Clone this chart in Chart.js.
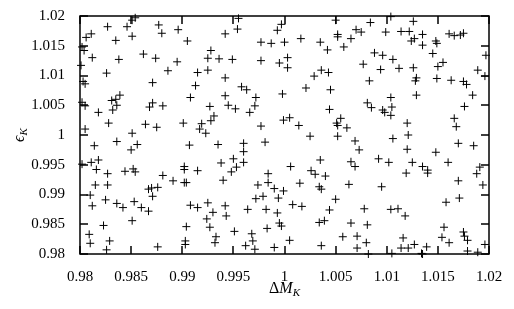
<!DOCTYPE html>
<html>
<head>
<meta charset="utf-8">
<script src="https://cdn.jsdelivr.net/npm/chart.js@4.4.0/dist/chart.umd.min.js"></script>
<style>
  html, body { margin: 0; padding: 0; background: #fff; }
</style>
</head>
<body>
<canvas id="scatter-chart" width="514" height="309"></canvas>
<script>
// Delta M_K values (top → bottom, left → right)
const deltaM = [
    0.9851, 0.9854, 0.9827, 0.9846, 0.9877, 0.9880, 0.9806, 0.9811, 0.9851, 0.9835,
    0.9802, 0.9804, 0.9812, 0.9838, 0.9862, 0.9874, 0.9886, 0.9801, 0.9826, 0.9803,
    0.9805, 0.9871,
    0.9955, 0.9896, 0.9942, 0.9954, 0.9993, 0.9905, 0.9977, 0.9987, 0.9928, 0.9925,
    0.9936, 0.9949, 0.9895, 0.9977, 0.9915, 0.9925, 0.9942, 0.9913, 0.9958, 0.9963,
    0.9997, 1.0050, 1.0084, 1.0099, 1.0070, 1.0075, 1.0052, 1.0052, 1.0016, 1.0000,
    1.0035, 1.0042, 1.0065, 1.0058, 1.0003, 0.9995, 1.0003, 1.0088, 1.0096, 1.0077,
    1.0094, 1.0036, 1.0043, 1.0029, 1.0083, 1.0021, 1.0045, 0.9998,
    1.0104, 1.0126, 1.0114, 1.0122, 1.0135, 1.0124, 1.0127, 1.0135, 1.0148, 1.0149,
    1.0161, 1.0166, 1.0172, 1.0175, 1.0197, 1.0145, 1.0106, 1.0112, 1.0126, 1.0150,
    1.0155, 1.0189, 1.0196, 1.0129, 1.0128, 1.0149, 1.0163, 1.0175, 1.0178,
    0.9839, 0.9831, 0.9835, 0.9836, 0.9832, 0.9802, 0.9805, 0.9818, 0.9871, 0.9868,
    0.9881, 0.9828, 0.9864, 0.9875, 0.9805, 0.9851, 0.9836, 0.9856, 0.9814, 0.9850,
    0.9802, 0.9811, 0.9818, 0.9816, 0.9827, 0.9844, 0.9852, 0.9854, 0.9881,
    0.9908, 0.9942, 0.9972, 0.9927, 0.9945, 0.9952, 0.9971, 0.9966, 0.9931, 0.9928,
    0.9901, 0.9919, 0.9917, 0.9923, 0.9977, 0.9907, 0.9935, 0.9960, 0.9981, 0.9960,
    0.9950, 0.9938, 0.9960, 0.9953, 0.9948, 0.9902, 0.9902, 0.9915, 0.9984,
    1.0044, 1.0081, 1.0085, 1.0096, 1.0098, 0.9999, 1.0005, 1.0014, 1.0055, 1.0051,
    1.0052, 1.0061, 1.0025, 1.0052, 1.0069, 1.0073, 1.0035, 1.0006, 1.0026, 1.0030,
    1.0040, 1.0065, 1.0069, 1.0092, 1.0102,
    1.0104, 1.0129, 1.0184, 1.0105, 1.0104, 1.0176, 1.0120, 1.0166, 1.0168, 1.0121,
    1.0106, 1.0120, 1.0148, 1.0170, 1.0185, 1.0125, 1.0135, 1.0140, 1.0140, 1.0160,
    1.0191, 1.0119, 1.0188,
    0.9815, 0.9827, 0.9810, 0.9812, 0.9825, 0.9836, 0.9842, 0.9853, 0.9860, 0.9867,
    0.9867, 0.9870, 0.9876, 0.9871, 0.9823, 0.9851, 0.9809, 0.9810, 0.9829, 0.9826,
    0.9876,
    0.9891, 0.9902, 0.9904, 0.9940, 0.9974, 0.9984, 0.9990, 0.9972, 0.9979, 0.9994,
    0.9908, 0.9915, 0.9925, 0.9942, 0.9930, 0.9943, 0.9924, 0.9964, 0.9982, 0.9993,
    0.9995, 0.9997, 0.9904, 0.9927, 0.9951, 0.9983, 0.9968, 0.9933, 0.9932, 0.9903,
    0.9903, 0.9962, 0.9969, 0.9971, 0.9990,
    1.0015, 0.9999, 1.0034, 1.0036, 1.0063, 1.0095, 1.0050, 1.0008, 1.0017, 1.0044,
    1.0078, 1.0034, 1.0039, 1.0065, 1.0081, 1.0005, 1.0057, 1.0071, 1.0080, 1.0036,
    1.0071, 1.0082,
    1.0170, 1.0194, 1.0171, 1.0158, 1.0104, 1.0111, 1.0118, 1.0156, 1.0154, 1.0161,
    1.0175, 1.0176, 1.0179, 1.0179, 1.0116, 1.0114, 1.0121, 1.0127, 1.0139, 1.0134,
    1.0135, 1.0105, 1.0189, 1.0196
];

// epsilon_K values, same order as deltaM
const epsK = [
    1.0193, 1.0197, 1.0182, 1.0182, 1.0185, 1.0171, 1.0164, 1.0170, 1.0166, 1.0159,
    1.0148, 1.0142, 1.0130, 1.0127, 1.0136, 1.0129, 1.0108, 1.0117, 1.0104, 1.0090,
    1.0086, 1.0088,
    1.0196, 1.0177, 1.0170, 1.0178, 1.0176, 1.0158, 1.0156, 1.0154, 1.0142, 1.0129,
    1.0128, 1.0127, 1.0123, 1.0125, 1.0105, 1.0109, 1.0096, 1.0083, 1.0081, 1.0076,
    1.0186, 1.0193, 1.0189, 1.0173, 1.0177, 1.0173, 1.0169, 1.0165, 1.0162, 1.0156,
    1.0156, 1.0143, 1.0162, 1.0148, 1.0130, 1.0121, 1.0113, 1.0138, 1.0134, 1.0119,
    1.0110, 1.0109, 1.0105, 1.0099, 1.0091, 1.0079, 1.0076, 1.0069,
    1.0199, 1.0191, 1.0174, 1.0174, 1.0169, 1.0158, 1.0162, 1.0151, 1.0158, 1.0154,
    1.0170, 1.0167, 1.0168, 1.0171, 1.0134, 1.0137, 1.0127, 1.0112, 1.0113, 1.0115,
    1.0122, 1.0109, 1.0099, 1.0096, 1.0091, 1.0095, 1.0092, 1.0090, 1.0085,
    1.0067, 1.0058, 1.0060, 1.0050, 1.0042, 1.0055, 1.0049, 1.0038, 1.0054, 1.0047,
    1.0049, 1.0020, 1.0018, 1.0013, 1.0010, 1.0003, 0.9989, 0.9984, 0.9982, 0.9975,
    0.9951, 0.9954, 0.9958, 0.9942, 0.9935, 0.9939, 0.9943, 0.9938, 0.9932,
    1.0063, 1.0066, 1.0063, 1.0048, 1.0050, 1.0044, 1.0049, 1.0038, 1.0032, 1.0024,
    1.0020, 1.0019, 1.0010, 1.0003, 1.0015, 0.9983, 0.9984, 0.9986, 0.9988, 0.9972,
    0.9960, 0.9953, 0.9954, 0.9946, 0.9938, 0.9947, 0.9942, 0.9940, 0.9935,
    1.0043, 1.0054, 1.0046, 1.0042, 1.0038, 1.0025, 1.0029, 1.0016, 1.0028, 1.0020,
    1.0016, 1.0012, 0.9998, 0.9998, 0.9990, 0.9975, 0.9958, 0.9947, 0.9940, 0.9934,
    0.9931, 0.9955, 0.9947, 0.9960, 0.9954,
    1.0063, 1.0067, 1.0067, 1.0047, 1.0033, 1.0048, 1.0020, 1.0028, 1.0014, 1.0000,
    0.9994, 0.9976, 0.9971, 0.9986, 0.9982, 0.9954, 0.9947, 0.9941, 0.9936, 0.9954,
    0.9946, 0.9936, 0.9935,
    0.9916, 0.9916, 0.9899, 0.9881, 0.9891, 0.9885, 0.9878, 0.9888, 0.9878, 0.9872,
    0.9909, 0.9911, 0.9912, 0.9897, 0.9848, 0.9856, 0.9833, 0.9818, 0.9822, 0.9807,
    0.9812,
    0.9923, 0.9920, 0.9920, 0.9924, 0.9916, 0.9920, 0.9910, 0.9893, 0.9897, 0.9894,
    0.9882, 0.9878, 0.9886, 0.9881, 0.9870, 0.9864, 0.9859, 0.9875, 0.9875, 0.9869,
    0.9852, 0.9847, 0.9846, 0.9845, 0.9838, 0.9843, 0.9834, 0.9829, 0.9819, 0.9822,
    0.9816, 0.9814, 0.9822, 0.9808, 0.9811,
    0.9919, 0.9906, 0.9913, 0.9909, 0.9917, 0.9913, 0.9892, 0.9883, 0.9880, 0.9874,
    0.9876, 0.9853, 0.9856, 0.9852, 0.9849, 0.9823, 0.9829, 0.9830, 0.9819, 0.9814,
    0.9810, 0.9800,
    0.9923, 0.9916, 0.9894, 0.9887, 0.9875, 0.9876, 0.9864, 0.9845, 0.9828, 0.9819,
    0.9837, 0.9830, 0.9823, 0.9805, 0.9827, 0.9810, 0.9810, 0.9816, 0.9812, 0.9801,
    0.9800, 0.9801, 0.9803, 0.9816
];

// Tick positions on both axes
const xTicks = [0.98, 0.985, 0.99, 0.995, 1, 1.005, 1.01, 1.015, 1.02];
const yTicks = [0.98, 0.985, 0.99, 0.995, 1, 1.005, 1.01, 1.015, 1.02];

if (deltaM.length !== epsK.length) {
    console.error('deltaM and epsK lengths differ:', deltaM.length, epsK.length);
}

const SERIF = "'Liberation Serif', 'DejaVu Serif', serif";
const fmt = v => String(parseFloat(v.toFixed(3)));

// Draw a label like "ΔM" + subscript "K", centred at (0,0) of current transform
function drawSubLabel(ctx, parts) {
    let total = 0;
    parts.forEach(p => {
        ctx.font = p.font;
        p.w = ctx.measureText(p.text).width;
        total += p.w;
    });
    let x = -total / 2;
    parts.forEach(p => {
        ctx.font = p.font;
        ctx.fillText(p.text, x, p.dy || 0);
        x += p.w;
    });
}

// Frame, inward ticks on all four sides, and axis titles
const framePlugin = {
    id: 'frame',
    afterDatasetsDraw(chart) {
        const { ctx, chartArea: a, scales: { x, y } } = chart;
        const tick = 8;
        ctx.save();
        ctx.strokeStyle = '#000';
        ctx.lineWidth = 1.5;
        ctx.strokeRect(a.left, a.top, a.right - a.left, a.bottom - a.top);

        ctx.beginPath();
        xTicks.forEach(v => {
            const px = Math.round(x.getPixelForValue(v));
            ctx.moveTo(px, a.bottom); ctx.lineTo(px, a.bottom - tick);
            ctx.moveTo(px, a.top); ctx.lineTo(px, a.top + tick);
        });
        yTicks.forEach(v => {
            const py = Math.round(y.getPixelForValue(v));
            ctx.moveTo(a.left, py); ctx.lineTo(a.left + tick, py);
            ctx.moveTo(a.right, py); ctx.lineTo(a.right - tick, py);
        });
        ctx.stroke();

        ctx.fillStyle = '#000';
        ctx.textBaseline = 'alphabetic';
        ctx.textAlign = 'left';

        // x-axis title: ΔM_K
        ctx.save();
        ctx.translate((a.left + a.right) / 2, 293);
        drawSubLabel(ctx, [
            { text: 'Δ', font: '16px ' + SERIF },
            { text: 'M', font: 'italic 16px ' + SERIF },
            { text: 'K', font: 'italic 11px ' + SERIF, dy: 3 }
        ]);
        ctx.restore();

        // y-axis title: ϵ_K (rotated)
        ctx.save();
        ctx.translate(24, (a.top + a.bottom) / 2);
        ctx.rotate(-Math.PI / 2);
        drawSubLabel(ctx, [
            { text: 'ϵ', font: 'italic 16px ' + SERIF },
            { text: 'K', font: 'italic 11px ' + SERIF, dy: 3 }
        ]);
        ctx.restore();

        ctx.restore();
    }
};

Chart.defaults.font.family = SERIF;
Chart.defaults.font.size = 15;
Chart.defaults.color = '#000';

const ctx = document.getElementById('scatter-chart').getContext('2d');
new Chart(ctx, {
    type: 'scatter',
    data: {
        datasets: [{
            data: deltaM.map((v, i) => ({ x: v, y: epsK[i] })),
            pointStyle: 'cross',
            pointRadius: 4,
            borderColor: '#000',
            backgroundColor: '#000',
            borderWidth: 1,
            clip: false
        }]
    },
    options: {
        responsive: false,
        animation: false,
        devicePixelRatio: 1,
        events: [],
        layout: { padding: { left: 0, right: 25, top: 9, bottom: 0 } },
        plugins: {
            legend: { display: false },
            tooltip: { enabled: false }
        },
        scales: {
            x: {
                type: 'linear',
                min: 0.98,
                max: 1.02,
                grid: { display: false },
                border: { display: false },
                afterBuildTicks: scale => { scale.ticks = xTicks.map(v => ({ value: v })); },
                afterFit: scale => { scale.height = 55; },
                ticks: {
                    padding: 6,
                    maxRotation: 0,
                    autoSkip: false,
                    callback: v => fmt(v)
                }
            },
            y: {
                type: 'linear',
                min: 0.98,
                max: 1.02,
                grid: { display: false },
                border: { display: false },
                afterBuildTicks: scale => { scale.ticks = yTicks.map(v => ({ value: v })); },
                afterFit: scale => { scale.width = 80; },
                ticks: {
                    padding: 7,
                    autoSkip: false,
                    callback: v => fmt(v)
                }
            }
        }
    },
    plugins: [framePlugin]
});
</script>
</body>
</html>
